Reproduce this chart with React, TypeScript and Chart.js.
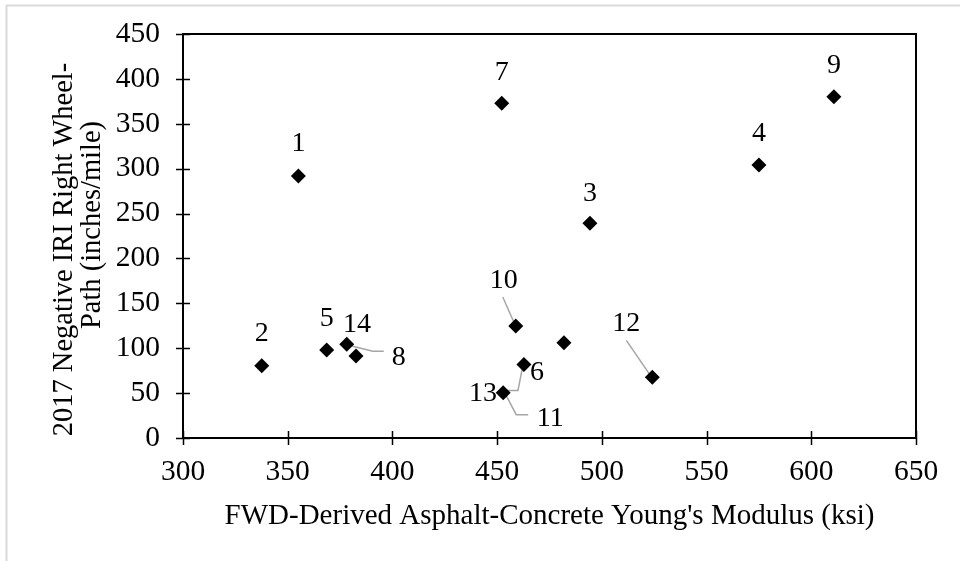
import React, { useEffect, useRef } from 'react';
import { Chart, registerables } from 'chart.js';

Chart.register(...registerables);

// ---- data ----
const pointIds = ['1', '2', '3', '4', '5', '6', '7', '8', '9', '10', '11', '12', '13', '14'];
const modulusKsi = [355.1, 337.6, 494.3, 575.0, 368.6, 481.9, 452.2, 378.2, 610.8, 458.9, 452.9, 524.1, 462.8, 382.6];
const iriInPerMile = [291.8, 80.5, 239.1, 304.1, 98.0, 106.2, 372.8, 104.4, 380.2, 124.7, 50.5, 67.6, 82.0, 91.3];

const xAxisTitle = "FWD-Derived Asphalt-Concrete Young's Modulus (ksi)";
const yAxisTitleLines = ['2017 Negative IRI Right Wheel-', 'Path (inches/mile)'];

// label placement (pixel offsets from the marker), style only
const labelOffsets: [number, number][] = [
  [0, -34], [0, -34], [0, -32], [0, -33], [0, -33], [-27, 28], [0, -33],
  [52, 11], [0, -33], [-12, -48], [47, 24], [-26, -56], [-41, 27], [1, -33],
];
const leaderPaths: ([number, number][] | null)[] = [
  null, null, null, null, null, null, null,
  [[37, 7], [26, 7], [14, 4], [2, 1]],
  null,
  [[-13, -29], [-2, -4]],
  [[25, 22], [13, 22], [2, 1]],
  [[-26, -37], [-2, -2]],
  [[-17, 26], [-6, 26], [-1, 1]],
  null,
];

const FONT = "'Liberation Serif', 'Times New Roman', serif";

const decorPlugin = {
  id: 'decor',
  beforeDraw(chart: any) {
    const ctx = chart.ctx;
    ctx.save();
    ctx.fillStyle = '#ffffff';
    ctx.fillRect(0, 0, chart.width, chart.height);
    ctx.strokeStyle = '#d9d9d9';
    ctx.lineWidth = 2;
    ctx.beginPath();
    ctx.moveTo(6.5, chart.height);
    ctx.lineTo(6.5, 5.5);
    ctx.lineTo(chart.width, 5.5);
    ctx.stroke();
    ctx.restore();
  },
  beforeDatasetsDraw(chart: any) {
    const ctx = chart.ctx;
    const meta = chart.getDatasetMeta(0);
    ctx.save();
    ctx.strokeStyle = '#a6a6a6';
    ctx.lineWidth = 1.5;
    meta.data.forEach((pt: any, i: number) => {
      const path = leaderPaths[i];
      if (!path) return;
      ctx.beginPath();
      path.forEach(([dx, dy], k) => {
        if (k === 0) ctx.moveTo(pt.x + dx, pt.y + dy);
        else ctx.lineTo(pt.x + dx, pt.y + dy);
      });
      ctx.stroke();
    });
    ctx.restore();
  },
  afterDraw(chart: any) {
    const ctx = chart.ctx;
    const ca = chart.chartArea;
    const xs = chart.scales.x;
    const ys = chart.scales.y;
    ctx.save();
    // plot box
    ctx.strokeStyle = '#000';
    ctx.lineWidth = 2;
    ctx.strokeRect(ca.left, ca.top, ca.right - ca.left, ca.bottom - ca.top);
    // cross ticks
    ctx.lineWidth = 1.5;
    ctx.beginPath();
    xs.ticks.forEach((t: any) => {
      const px = Math.round(xs.getPixelForValue(t.value)) + 0.5;
      ctx.moveTo(px, ca.bottom - 7);
      ctx.lineTo(px, ca.bottom + 7);
    });
    ys.ticks.forEach((t: any) => {
      const py = Math.round(ys.getPixelForValue(t.value)) + 0.5;
      ctx.moveTo(ca.left - 7, py);
      ctx.lineTo(ca.left + 7, py);
    });
    ctx.stroke();

    // data labels
    const meta = chart.getDatasetMeta(0);
    const fs = 28;
    ctx.fillStyle = '#000';
    ctx.font = `${fs}px ${FONT}`;
    ctx.textAlign = 'center';
    ctx.textBaseline = 'alphabetic';
    meta.data.forEach((pt: any, i: number) => {
      const [dx, dy] = labelOffsets[i];
      ctx.fillText(pointIds[i], pt.x + dx, pt.y + dy + fs * 0.338);
    });

    // axis titles
    ctx.font = `29px ${FONT}`;
    ctx.textAlign = 'center';
    ctx.textBaseline = 'alphabetic';
    const cx = (ca.left + ca.right) / 2;
    ctx.fillText(xAxisTitle, cx, 524);

    ctx.font = `28.5px ${FONT}`;
    const cy = (ca.top + ca.bottom) / 2;
    ctx.save();
    ctx.translate(71.7, cy + 13.5);
    ctx.rotate(-Math.PI / 2);
    ctx.fillText(yAxisTitleLines[0], 0, 0);
    ctx.restore();
    ctx.save();
    ctx.translate(99.5, cy - 11);
    ctx.rotate(-Math.PI / 2);
    ctx.fillText(yAxisTitleLines[1], 0, 0);
    ctx.restore();

    ctx.restore();
  },
};

export default function App() {
  const canvasRef = useRef<HTMLCanvasElement | null>(null);

  useEffect(() => {
    if (!canvasRef.current) return;
    const chart = new Chart(canvasRef.current, {
      type: 'scatter',
      data: {
        datasets: [
          {
            label: 'IRI',
            data: modulusKsi.map((x, i) => ({ x, y: iriInPerMile[i] })),
            pointStyle: 'rectRot',
            pointRadius: 7.5,
            pointHoverRadius: 7.5,
            backgroundColor: '#000',
            borderColor: '#000',
            borderWidth: 0,
          },
        ],
      },
      options: {
        animation: false,
        responsive: true,
        maintainAspectRatio: false,
        layout: { padding: { top: 34, right: 44, left: 0, bottom: 0 } },
        plugins: {
          legend: { display: false },
          tooltip: { enabled: false },
          title: { display: false },
        },
        scales: {
          x: {
            type: 'linear',
            min: 300,
            max: 650,
            ticks: {
              stepSize: 50,
              padding: 17,
              color: '#000',
              font: { family: FONT, size: 29.5 },
              maxRotation: 0,
            },
            grid: { display: true, drawOnChartArea: false, drawTicks: false, color: 'rgba(0,0,0,0)' },
            border: { display: false },
            afterFit: (s: any) => {
              s.height = 123;
              s.paddingLeft = 0;
              s.paddingRight = 0;
            },
          },
          y: {
            type: 'linear',
            min: 0,
            max: 450,
            ticks: {
              stepSize: 50,
              padding: 23,
              color: '#000',
              font: { family: FONT, size: 29.5 },
            },
            grid: { display: true, drawOnChartArea: false, drawTicks: false, color: 'rgba(0,0,0,0)' },
            border: { display: false },
            afterFit: (s: any) => {
              s.width = 183;
              s.paddingTop = 0;
              s.paddingBottom = 0;
            },
          },
        },
      },
      plugins: [decorPlugin],
    });
    return () => chart.destroy();
  }, []);

  return (
    <div style={{ position: 'fixed', left: 0, top: 0, width: 960, height: 561, background: '#fff' }}>
      <canvas ref={canvasRef} />
    </div>
  );
}
